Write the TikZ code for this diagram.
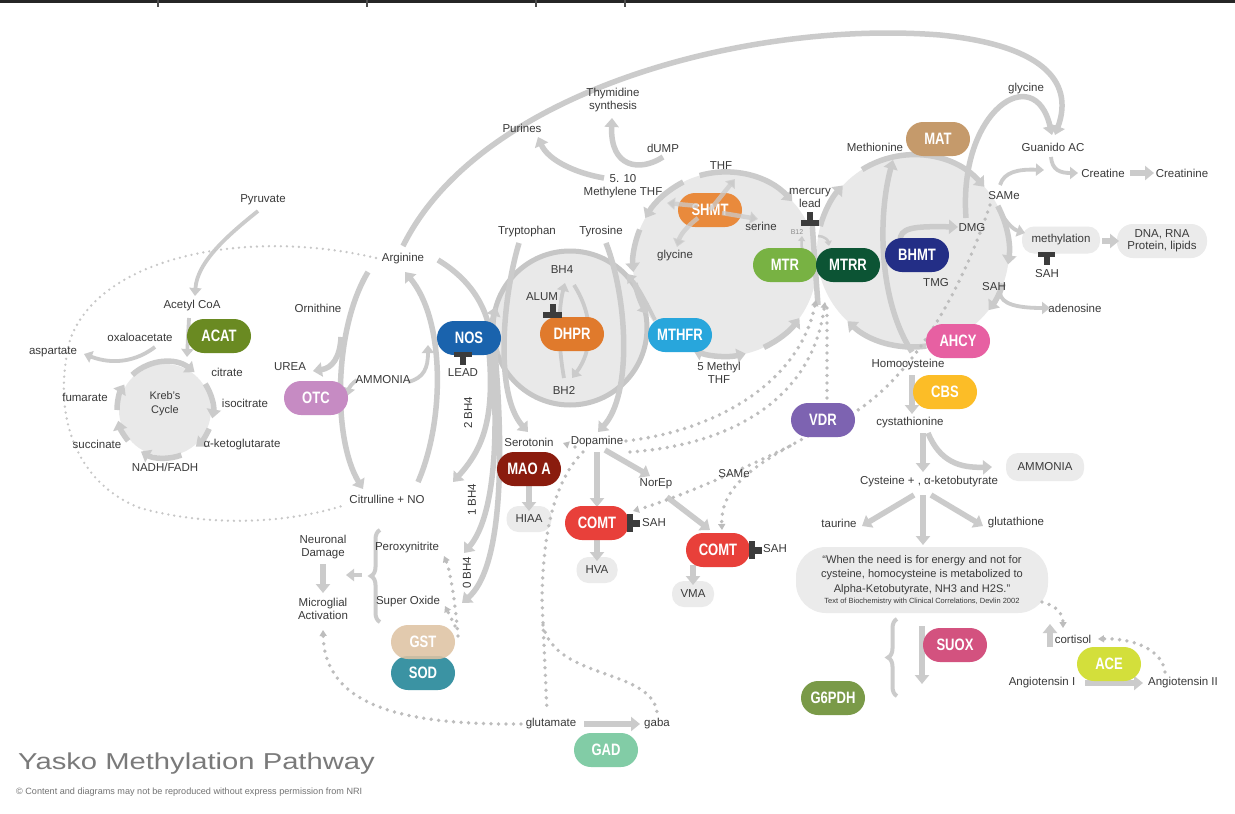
\documentclass[tikz,border=0pt]{standalone}
\usepackage{fontspec}
\setmainfont{Liberation Sans}
\newfontfamily\enzfont[FakeStretch=0.79]{Liberation Sans}
\newfontfamily\ttlfont[FakeStretch=1.27]{Liberation Sans}
\usetikzlibrary{arrows.meta,decorations.pathreplacing}
\definecolor{ag}{HTML}{CBCBCB}
\definecolor{cg}{HTML}{E9E9E9}
\definecolor{rg}{HTML}{C6C6C6}
\definecolor{dg}{HTML}{BDBDBD}
\definecolor{tc}{HTML}{3A3A3A}
\definecolor{tb}{HTML}{3C3C3C}
\definecolor{bx}{HTML}{EBEBEB}
\definecolor{ttl}{HTML}{7A7A7A}
\definecolor{cACAT}{HTML}{6A8A22}
\definecolor{cOTC}{HTML}{C68BC3}
\definecolor{cNOS}{HTML}{1A63AD}
\definecolor{cDHPR}{HTML}{E07A2C}
\definecolor{cMTHFR}{HTML}{28A6DC}
\definecolor{cSHMT}{HTML}{E98A3C}
\definecolor{cMTR}{HTML}{78B243}
\definecolor{cMTRR}{HTML}{0C5434}
\definecolor{cBHMT}{HTML}{232E86}
\definecolor{cMAT}{HTML}{C59A6B}
\definecolor{cAHCY}{HTML}{E760A2}
\definecolor{cCBS}{HTML}{FCBD27}
\definecolor{cVDR}{HTML}{7D63B1}
\definecolor{cMAO}{HTML}{8A1C0E}
\definecolor{cCOMT}{HTML}{E8403A}
\definecolor{cGST}{HTML}{DEC3A3}
\definecolor{cSOD}{HTML}{3B93A3}
\definecolor{cGAD}{HTML}{82CCA6}
\definecolor{cSUOX}{HTML}{D3527F}
\definecolor{cG6PDH}{HTML}{7A9A48}
\definecolor{cACE}{HTML}{D3DF3B}
\tikzset{
  fl/.style={draw=ag, line width=5.5pt, -{Triangle[length=9pt,width=14pt]}},
  flb/.style={draw=ag, line width=5.5pt, {Triangle[length=9pt,width=14pt]}-{Triangle[length=9pt,width=14pt]}},
  fln/.style={draw=ag, line width=5.5pt},
  fls/.style={draw=ag, line width=3.8pt, -{Triangle[length=8pt,width=12pt]}},
  flt/.style={draw=ag, line width=4.5pt, draw opacity=0.75, -{Triangle[length=8pt,width=12pt]}},
  dotl/.style={draw=dg, line width=3.8pt, dash pattern=on 0pt off 7.5pt, line cap=round},
  dotf/.style={draw=dg!85, line width=2.6pt, dash pattern=on 0pt off 6pt, line cap=round},
  dota/.style={dotl, -{Triangle[length=6pt,width=7pt]}},
  pill/.style={rectangle, rounded corners=17pt, minimum width=64pt, minimum height=34pt,
     text=white, inner sep=0pt, font=\enzfont\fontsize{16.5}{16.5}\selectfont\bfseries},
  gbox/.style={rectangle, fill=bx, rounded corners=12pt, inner sep=0pt, text=tc,
     font=\fontsize{11.5}{13}\selectfont, align=center},
  lbl/.style={font=\fontsize{11.5}{13.5}\selectfont, text=tc, inner sep=0pt, align=center},
  tbar/.style={fill=tb},
  brc/.style={draw=ag, line width=4pt, decorate, decoration={brace, amplitude=9pt}}
}
\begin{document}
\begin{tikzpicture}[x=1pt,y=-1pt]
\useasboundingbox (0,0) rectangle (1235,814);
\fill[white] (0,0) rectangle (1235,814);
% top bar
\fill[black!85] (0,0) rectangle (1235,3);
\foreach \t in {157,366,535,624} {\fill[black!70] (\t,0) rectangle (\t+1.5,7);}

% ---------- circles ----------
\fill[cg] (165,410) circle[radius=46];
\fill[cg] (570,328) circle[radius=77];
\fill[cg] (725,264) circle[radius=92];
\fill[cg] (913,251) circle[radius=96];
\draw[rg, line width=5pt] (570,328) circle[radius=77];

% ---------- gray boxes ----------
\node[gbox, minimum width=78pt, minimum height=27pt] (methyl) at (1061,240) {methylation};
\node[gbox, minimum width=90pt, minimum height=34pt, rounded corners=16pt] (dna) at (1162,241) {DNA, RNA\\[-1pt]Protein, lipids};
\node[gbox, minimum width=78pt, minimum height=28pt] (amm2) at (1045,467) {AMMONIA};
\node[gbox, minimum width=45pt, minimum height=26pt] (hiaa) at (529,519) {HIAA};
\node[gbox, minimum width=41pt, minimum height=26pt] (hva) at (597,570) {HVA};
\node[gbox, minimum width=42pt, minimum height=26pt] (vma) at (693,594) {VMA};
\node[gbox, minimum width=252pt, minimum height=66pt, rounded corners=30pt] (quote) at (922,580) {};

% ---------- Kreb's cycle ----------
\foreach \a/\b in {-133/-52, -33/10, 23/50, 70/120, 140/167, 180/212}
  {\draw[fl] ([shift={(\a:48)}]165,410) arc[start angle=\a, end angle=\b, radius=48];}
\draw[fls] (258,211) .. controls (228,235) and (197,262) .. (195,296);
\draw[fls] (189,318) -- (187,357);
\draw[fls] (155,347) .. controls (130,366) and (105,362) .. (84,354);

% ---------- urea cycle ----------
\draw[fl] (368,272) .. controls (333,330) and (333,440) .. (363,489);
\draw[fl] (341,337) .. controls (340,358) and (332,368) .. (313,371);
\draw[fl] (418,482) .. controls (445,420) and (445,320) .. (405,272);
\draw[fls] (408,382) .. controls (424,378) and (428,368) .. (428,345);
\draw[fls] (357,380) .. controls (352,383) and (349,388) .. (347,396);

% ---------- NOS / BH4 ----------
\draw[fln] (438,260) .. controls (468,278) and (488,305) .. (491,340);
\draw[fl] (489,352) .. controls (495,420) and (482,450) .. (453,482);
\draw[fl] (492,352) .. controls (500,450) and (492,520) .. (464,553);
\draw[fl] (495,352) .. controls (505,470) and (500,570) .. (462,603);
\draw[fl] (519,243) .. controls (502,300) and (495,395) .. (528,432);
\draw[fl] (606,243) .. controls (628,300) and (632,395) .. (598,432);
\draw[fls] (564,378) .. controls (558,345) and (558,310) .. (565,283);
\draw[fls] (574,285) .. controls (595,318) and (592,352) .. (572,378);
\draw[fl] ([shift={(160:77)}]570,328) arc[start angle=160, end angle=196, radius=77];
\draw[fls] (655,320) .. controls (645,300) and (638,287) .. (627,274);

% ---------- folate cycle ----------
\draw[fl] ([shift={(-106:92)}]725,264) arc[start angle=-106, end angle=-43, radius=92];
\draw[fl] ([shift={(-117:92)}]725,264) arc[start angle=-117, end angle=-150, radius=92];
\draw[fl] ([shift={(-158:92)}]725,264) arc[start angle=-158, end angle=-185, radius=92];
\draw[fl] ([shift={(-192:92)}]725,264) arc[start angle=-192, end angle=-213, radius=92];
\draw[flb] ([shift={(110:92)}]725,264) arc[start angle=110, end angle=77, radius=92];
\draw[fl] ([shift={(65:92)}]725,264) arc[start angle=65, end angle=36, radius=92];
\draw[fl] (604,178) .. controls (575,173) and (548,160) .. (538,137);
\draw[fl] (663,157) .. controls (640,172) and (610,168) .. (612,118);
\draw[fln] (812,222) -- (818,305);
\draw[draw=ag, line width=2.5pt, -{Triangle[length=5pt,width=7pt]}] (809,262) .. controls (803,255) and (801,248) .. (802,236);
\draw[draw=ag, line width=2.5pt, -{Triangle[length=5pt,width=7pt]}] (818,236) .. controls (824,236) and (828,240) .. (829,246);

% ---------- methionine cycle ----------
\draw[fl] ([shift={(-165:96)}]913,251) arc[start angle=-165, end angle=-137, radius=96];
\draw[fl] ([shift={(-122:96)}]913,251) arc[start angle=-122, end angle=-42, radius=96];
\draw[fl] ([shift={(-28:96)}]913,251) arc[start angle=-28, end angle=8, radius=96];
\draw[fl] ([shift={(20:96)}]913,251) arc[start angle=20, end angle=38, radius=96];
\draw[fl] ([shift={(82:96)}]913,251) arc[start angle=82, end angle=133, radius=96];
\draw[fl] (912,352) .. controls (878,300) and (878,215) .. (893,160);
\draw[fl] (900,241) .. controls (900,228) and (912,226) .. (958,227);
\draw[fl] (966,218) .. controls (958,110) and (1035,60) .. (1052,135);
\draw[fl] (403,246) .. controls (480,90) and (750,20) .. (940,35) .. controls (1040,45) and (1075,80) .. (1055,135);
\draw[fls] (1000,185) .. controls (1004,172) and (1018,169) .. (1044,170);
\draw[fls] (1051,157) .. controls (1052,170) and (1060,173) .. (1078,173);
\draw[fl] (1130,173) -- (1154,173);
\draw[fls] (998,207) .. controls (1004,220) and (1012,229) .. (1025,233);
\draw[fl] (1102,241) -- (1119,241);
\draw[fls] (1000,292) .. controls (1000,305) and (1020,308) .. (1050,308);

% ---------- transsulfuration ----------
\draw[fl] (912,375) -- (912,414);
\draw[fl] (923,433) -- (923,472);
\draw[fl] (928,433) .. controls (940,462) and (960,468) .. (992,467);
\draw[fl] (914,495) -- (862,526);
\draw[fl] (923,495) -- (923,545);
\draw[fl] (931,495) -- (983,526);
\draw[fl] (922,626) -- (922,684);
\draw[brc] (897,696) -- (897,619);
\draw[fl] (1050,647) -- (1050,624);
\draw[fl] (1085,683) -- (1143,683);

% ---------- dopamine branch ----------
\draw[fl] (597,452) -- (597,507);
\draw[fl] (605,450) -- (650,476);
\draw[fl] (667,497) -- (710,530);
\draw[fl] (597,538) -- (597,561);
\draw[fl] (693,565) -- (693,585);
\draw[fl] (529,485) -- (529,511);
\draw[fl] (323,564) -- (323,593);
\draw[brc] (380,622) -- (380,530);
\draw[fls] (362,575) -- (346,575);
\draw[fl] (584,724) -- (640,724);

% ---------- dotted connectors ----------
\draw[dotf] (376,258) .. controls (250,228) and (100,255) .. (70,340) .. controls (50,420) and (80,485) .. (140,508) .. controls (220,530) and (300,520) .. (345,505);
\draw[dota] (626,441) .. controls (720,430) and (800,380) .. (816,300);
\draw[dota] (630,452) .. controls (730,445) and (812,400) .. (825,302);
\draw[dotl] (827,308) -- (827,402);
\draw[dotl] (990,205) .. controls (965,280) and (920,370) .. (855,412);
\draw[dota] (808,436) .. controls (760,462) and (720,485) .. (722,530);
\draw[dota] (790,446) .. controls (720,480) and (670,500) .. (633,511);
\draw[dota] (575,447) -- (563,443);
\draw[dotl] (583,452) .. controls (555,480) and (543,530) .. (542,600) -- (547,712);
\draw[dotl] (543,625) .. controls (555,680) and (650,668) .. (657,712);
\draw[dota] (458,636) .. controls (455,600) and (450,570) .. (444,556);
\draw[dota] (455,626) -- (445,606);
\draw[dota] (521,724) .. controls (400,725) and (325,705) .. (323,630);
\draw[dota] (1042,602) .. controls (1058,606) and (1063,615) .. (1063,628);
\draw[dota] (1165,672) .. controls (1162,648) and (1130,638) .. (1098,639);

% ---------- enzymes ----------
\node[pill, fill=cACAT] (acat) at (219,336) {ACAT};
\node[pill, fill=cOTC] (otc) at (316,398) {OTC};
\node[pill, fill=cNOS] (nos) at (469,338) {NOS};
\node[pill, fill=cDHPR] (dhpr) at (572,334) {DHPR};
\node[pill, fill=cMTHFR] (mthfr) at (680,335) {MTHFR};
\node[pill, fill=cSHMT] (shmt) at (710,210) {SHMT};
\node[pill, fill=cMTR] (mtr) at (785,265) {MTR};
\node[pill, fill=cMTRR] (mtrr) at (848,265) {MTRR};
\node[pill, fill=cBHMT] (bhmt) at (917,255) {BHMT};
\node[pill, fill=cMAT] (mat) at (938,139) {MAT};
\node[pill, fill=cAHCY] (ahcy) at (958,341) {AHCY};
\node[pill, fill=cCBS] (cbs) at (945,392) {CBS};
\node[pill, fill=cVDR] (vdr) at (823,420) {VDR};
\node[pill, fill=cMAO] (maoa) at (529,469) {MAO A};
\node[pill, fill=cCOMT] (comta) at (597,523) {COMT};
\node[pill, fill=cCOMT] (comtb) at (718,550) {COMT};
\node[pill, fill=cSOD] (sod) at (423,673) {SOD};
\node[pill, fill=cGST, fill opacity=0.88, text opacity=1] (gst) at (423,642) {GST};
\node[pill, fill=cGAD] (gad) at (606,750) {GAD};
\node[pill, fill=cSUOX] (suox) at (955,645) {SUOX};
\node[pill, fill=cG6PDH] (g6pdh) at (833,698) {G6PDH};
\node[pill, fill=cACE] (ace) at (1109,664) {ACE};

% arrows crossing SHMT
\draw[flt] (710,210) -- (735,179);
\draw[flt] (722,213) -- (758,219);
\draw[flt] (698,218) .. controls (685,228) and (680,236) .. (677,247);
\draw[flt] (698,206) -- (667,203);

% ---------- inhibitors ----------
\fill[tbar] (454,352) rectangle (472,357); \fill[tbar] (460,357) rectangle (466,365);
\fill[tbar] (550,304) rectangle (556,313); \fill[tbar] (543,312) rectangle (562,318);
\fill[tbar] (807,212) rectangle (813,220); \fill[tbar] (801,220) rectangle (819,226);
\fill[tbar] (1038,252) rectangle (1055,257); \fill[tbar] (1044,257) rectangle (1050,265);
\fill[tbar] (627,514) rectangle (633,532); \fill[tbar] (633,520) rectangle (640,527);
\fill[tbar] (749,541) rectangle (755,559); \fill[tbar] (755,547) rectangle (762,554);

% ---------- labels ----------
\node[lbl] (pyr) at (263,200) {Pyruvate};
\node[lbl] (acoa) at (192,306) {Acetyl CoA};
\node[lbl] (oxa) at (140,337) {oxaloacetate};
\node[lbl] (asp) at (53,352) {aspartate};
\node[lbl] (cit) at (227,372) {citrate};
\node[lbl] (isoc) at (245,403) {isocitrate};
\node[lbl] (akg) at (242,445) {α-ketoglutarate};
\node[lbl] (nadh) at (165,467) {NADH/FADH};
\node[lbl] (succ) at (97,444) {succinate};
\node[lbl] (fum) at (85,397) {fumarate};
\node[lbl, font=\fontsize{11}{14}\selectfont] (kreb) at (165,404) {Kreb's\\Cycle};
\node[lbl] (orn) at (318,308) {Ornithine};
\node[lbl] (urea) at (290,367) {UREA};
\node[lbl] (amm1) at (383,380) {AMMONIA};
\node[lbl] (arg) at (403,259) {Arginine};
\node[lbl] (citr) at (387,499) {Citrulline + NO};
\node[lbl] (lead1) at (463,373) {LEAD};
\node[lbl, rotate=90] (bh2a) at (468,413) {2 BH4};
\node[lbl, rotate=90] (bh1a) at (472,500) {1 BH4};
\node[lbl, rotate=90] (bh0a) at (467,573) {0 BH4};
\node[lbl] (trp) at (527,232) {Tryptophan};
\node[lbl] (tyr) at (601,232) {Tyrosine};
\node[lbl] (bh4) at (562,270) {BH4};
\node[lbl] (alum) at (542,297) {ALUM};
\node[lbl] (bh2) at (564,390) {BH2};
\node[lbl] (sero) at (529,442) {Serotonin};
\node[lbl] (dopa) at (597,442) {Dopamine};
\node[lbl] (norep) at (656,484) {NorEp};
\node[lbl] (same2) at (734,474) {SAMe};
\node[lbl] (sah2) at (654,523) {SAH};
\node[lbl] (sah3) at (775,549) {SAH};
\node[lbl] (neur) at (323,547) {Neuronal\\Damage};
\node[lbl] (micro) at (323,609) {Microglial\\Activation};
\node[lbl] (perox) at (407,548) {Peroxynitrite};
\node[lbl] (supox) at (408,602) {Super Oxide};
\node[lbl] (glut) at (551,724) {glutamate};
\node[lbl] (gaba) at (657,724) {gaba};
\node[lbl] (thym) at (613,100) {Thymidine\\synthesis};
\node[lbl] (pur) at (522,128) {Purines};
\node[lbl] (dump) at (663,148) {dUMP};
\node[lbl] (mthf) at (623,186) {5. 10\\Methylene THF};
\node[lbl] (thf) at (721,166) {THF};
\node[lbl] (ser) at (761,226) {serine};
\node[lbl] (gly1) at (675,256) {glycine};
\node[lbl] (merc) at (810,198) {mercury\\lead};
\node[lbl, font=\fontsize{7}{8}\selectfont, text=black!45] (b12) at (797,232) {B12};
\node[lbl] (fmthf) at (719,373) {5 Methyl\\THF};
\node[lbl] (meth) at (875,147) {Methionine};
\node[lbl] (gly2) at (1026,89) {glycine};
\node[lbl] (guan) at (1053,147) {Guanido AC};
\node[lbl] (crea) at (1103,173) {Creatine};
\node[lbl] (crtn) at (1182,173) {Creatinine};
\node[lbl] (same1) at (1004,196) {SAMe};
\node[lbl] (dmg) at (972,228) {DMG};
\node[lbl] (sah1) at (1047,274) {SAH};
\node[lbl] (tmg) at (936,283) {TMG};
\node[lbl] (sah0) at (994,287) {SAH};
\node[lbl] (aden) at (1075,308) {adenosine};
\node[lbl] (hcy) at (908,365) {Homocysteine};
\node[lbl] (cysta) at (910,423) {cystathionine};
\node[lbl] (cyst) at (929,482) {Cysteine + , α-ketobutyrate};
\node[lbl] (taur) at (839,523) {taurine};
\node[lbl] (gsh) at (1016,523) {glutathione};
\node[lbl, font=\fontsize{11.1}{14.3}\selectfont] (qtext) at (922,575) {“When the need is for energy and not for\\cysteine, homocysteine is metabolized to\\Alpha-Ketobutyrate, NH3 and H2S.”};
\node[lbl, font=\fontsize{7.5}{8}\selectfont] (qcite) at (922,602) {Text of Biochemistry with Clinical Correlations, Devlin 2002};
\node[lbl] (cort) at (1073,639) {cortisol};
\node[lbl] (ang1) at (1042,683) {Angiotensin I};
\node[lbl] (ang2) at (1183,683) {Angiotensin II};

% ---------- title ----------
\node[anchor=base west, inner sep=0pt, text=ttl, font=\ttlfont\fontsize{23}{23}\selectfont] (title) at (18,769) {Yasko Methylation Pathway};
\node[anchor=base west, inner sep=0pt, text=black!55, font=\fontsize{9.1}{9.5}\selectfont] (copyr) at (16,794) {© Content and diagrams may not be reproduced without express permission from NRI};
\end{tikzpicture}
\end{document}
